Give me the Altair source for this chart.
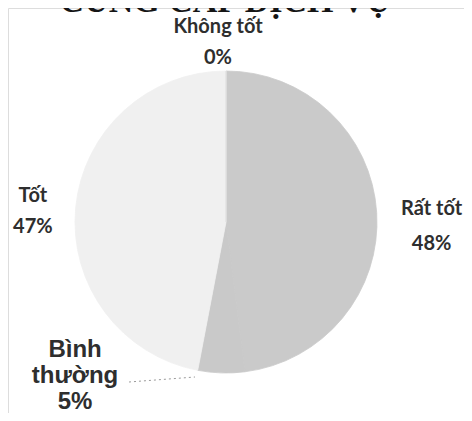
import altair as alt
import pandas as pd

title_text = "CUNG CẤP DỊCH VỤ"
categories = ["Rất tốt", "Bình thường", "Tốt", "Không tốt"]
percents = [48, 5, 47, 0]
colors = ["#cacaca", "#c9c9c9", "#f0f0f0", "#e0e0e0"]

df = pd.DataFrame({
    "cat": categories,
    "value": percents,
    "idx": list(range(len(categories))),
})
df["label"] = [c.replace("Bình thường", "Bình\nthường") + "\n" + str(p) + "%" for c, p in zip(categories, percents)]

base = alt.Chart(df).encode(
    theta=alt.Theta("value:Q", stack=True),
    order=alt.Order("idx:Q"),
)

cx, cy = 218, 214
color_scale = alt.Scale(domain=categories, range=colors)

pie = base.mark_arc(outerRadius=151, strokeWidth=0.8).encode(
    x=alt.value(cx), y=alt.value(cy),
    color=alt.Color("cat:N", scale=color_scale, legend=None),
    stroke=alt.Stroke("cat:N", scale=color_scale, legend=None),
)

def label_layer(cat, radius, dx=0, dy=0, font="Lato", size=20, lh=33, weight="bold"):
    return base.mark_text(
        radius=radius, dx=dx, dy=dy, lineBreak="\n", lineHeight=lh,
        font=font, fontSize=size, fontWeight=weight, color="#2e2e2e",
        align="center", baseline="middle",
    ).encode(
        x=alt.value(cx), y=alt.value(cy),
        text=alt.condition(alt.datum.cat == cat, "label:N", alt.value("")),
    )

labels = [
    label_layer("Không tốt", 182, dx=-8, dy=-13, lh=31),
    label_layer("Rất tốt", 214, dx=-8, dy=0, lh=35),
    label_layer("Tốt", 194, dx=0, dy=-8, lh=31),
    label_layer("Bình thường", 158, dx=-146, dy=-30, font="Liberation Sans", size=24, lh=26),
]

leader = alt.Chart(pd.DataFrame({"a": [0]})).mark_rule(
    color="#9a9a9a", strokeWidth=1, strokeDash=[2, 3]
).encode(x=alt.value(121), x2=alt.value(187), y=alt.value(374), y2=alt.value(369))

title = alt.Chart(pd.DataFrame({"t": [title_text]})).mark_text(
    font="Liberation Serif", fontSize=34, fontWeight="bold", color="#151515",
    align="center", baseline="alphabetic",
).encode(x=alt.value(217), y=alt.value(4), text="t:N")

chart = alt.layer(pie, *labels, leader, title).properties(
    width=456, height=405,
    autosize=alt.AutoSizeParams(type="none"),
    padding=0,
).configure_view(stroke=None).configure(background="white")

chart.save("out.html", embed_options={"renderer": "svg", "actions": False})
